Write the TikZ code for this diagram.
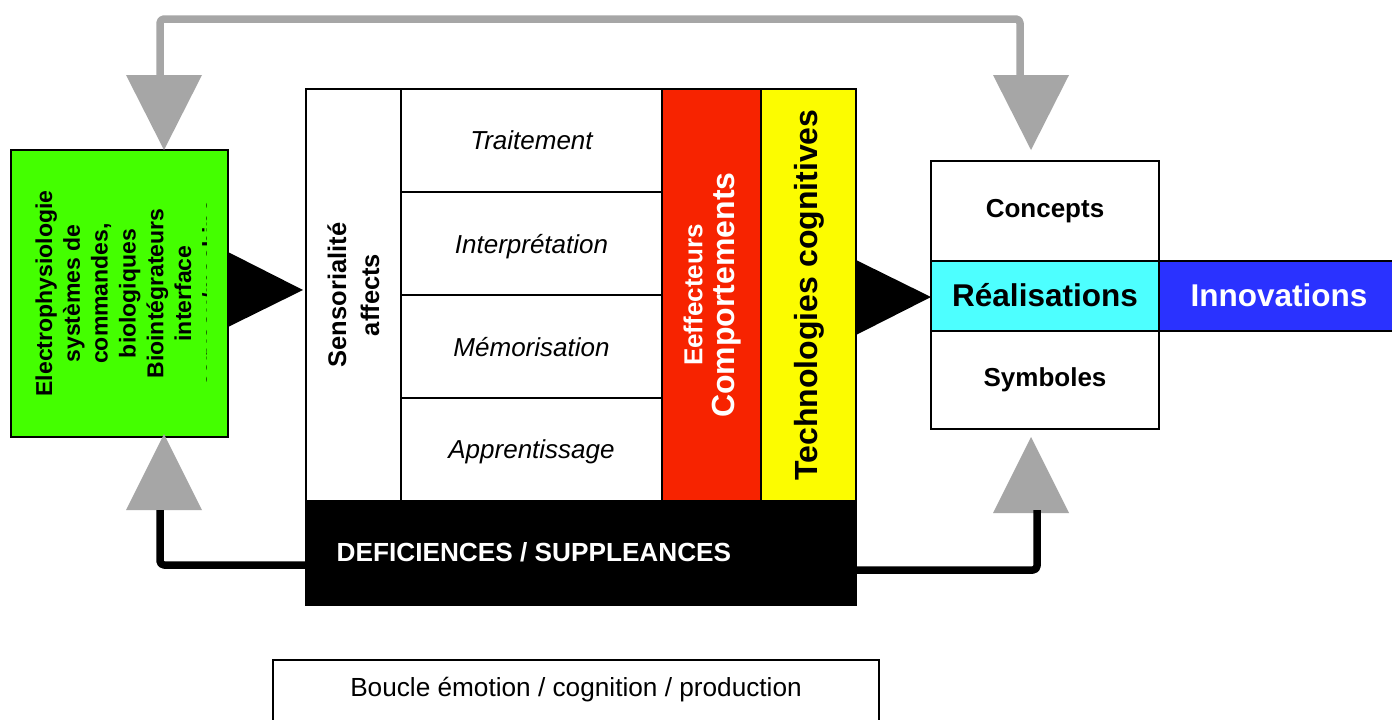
\documentclass[tikz,border=0pt]{standalone}
\usepackage{fontspec}
\setmainfont{Liberation Sans}
\usetikzlibrary{calc}
\definecolor{vert}{RGB}{68,255,0}
\definecolor{rouge}{RGB}{247,35,0}
\definecolor{jaune}{RGB}{252,252,0}
\definecolor{cyanR}{RGB}{77,255,255}
\definecolor{bleuI}{RGB}{42,50,255}
\definecolor{grisA}{RGB}{166,166,166}
\tikzset{
  box/.style={draw=black, line width=2pt, rectangle, inner sep=0pt, outer sep=0pt, anchor=north west},
  vtext/.style={rotate=90, inner sep=0pt, align=center},
  rowtext/.style={font=\itshape\fontsize{26}{31}\selectfont, text depth=0pt},
  boldtext/.style={font=\bfseries\fontsize{26}{31}\selectfont, text depth=0pt},
  grayline/.style={draw=grisA, line width=7.5pt, rounded corners=4pt, line join=round},
  blackline/.style={draw=black, line width=7.5pt, rounded corners=4pt, line join=round},
  headgray/.style={fill=grisA},
  headblack/.style={fill=black}
}
\begin{document}
\begin{tikzpicture}[x=1pt,y=-1pt]
\fill[white] (0,0) rectangle (1392,720);
\useasboundingbox (0,0) rectangle (1392,720);

% left green box
\node[box, fill=vert, minimum width=217, minimum height=287] (green) at (11,150) {};
\begin{scope}
  \clip (11,150) rectangle (206.5,437);
  \node[vtext, font=\bfseries\fontsize{23}{27.8}\selectfont] (greentxt) at (127.4,293.5)
    {Electrophysiologie\\systèmes de\\commandes,\\biologiques\\Biointégrateurs\\interface\\cerveau/machine};
\end{scope}

% central block
\node[box, minimum width=95, minimum height=412] (sens) at (306,89) {};
\node[vtext, font=\bfseries\fontsize{25.5}{33}\selectfont] (senstxt) at (sens.center) {Sensorialité\\affects};
\node[box, rowtext, minimum width=261, minimum height=103] (trait) at (401,89) {Traitement};
\node[box, rowtext, minimum width=261, minimum height=103] (interp) at (401,192) {Interprétation};
\node[box, rowtext, minimum width=261, minimum height=103] (memo) at (401,295) {Mémorisation};
\node[box, rowtext, minimum width=261, minimum height=103] (appr) at (401,398) {Apprentissage};
\node[box, fill=rouge, minimum width=99, minimum height=412] (red) at (662,89) {};
\node[vtext, text=white, font=\bfseries\fontsize{26}{31}\selectfont] (eff) at ($(red.center)+(-18.5,0)$) {Eeffecteurs};
\node[vtext, text=white, font=\bfseries\fontsize{32}{38}\selectfont] (comp) at ($(red.center)+(15.5,0)$) {Comportements};
\node[box, fill=jaune, minimum width=95, minimum height=412] (yellow) at (761,89) {};
\node[vtext, font=\bfseries\fontsize{32}{38}\selectfont] (techno) at ($(yellow.center)+(1,0)$) {Technologies cognitives};
\node[box, fill=black, minimum width=550, minimum height=104] (black) at (306,501) {};
\node[anchor=west, inner sep=0pt, text=white, font=\bfseries\fontsize{26.2}{31}\selectfont] (defi) at ($(black.west)+(30.5,-1)$) {DEFICIENCES / SUPPLEANCES};

% right block
\node[box, boldtext, text depth=5pt, minimum width=228, minimum height=99.5] (concepts) at (931,161) {Concepts};
\node[box, fill=cyanR, minimum width=228, minimum height=70, font=\bfseries\fontsize{31.5}{38}\selectfont, text depth=2pt] (real) at (931,260.5) {Réalisations};
\node[box, boldtext, text depth=6pt, minimum width=228, minimum height=98.5] (symb) at (931,330.5) {Symboles};
\node[box, fill=bleuI, text=white, minimum width=240, minimum height=70, font=\bfseries\fontsize{31.5}{38}\selectfont, text depth=0pt] (innov) at (1159,260.5) {Innovations};

% big black arrowheads
\fill[headblack] ($(green.east)+(0,-41.5)$) -- ($(sens.west)+(-3,-5)$) -- ($(green.east)+(0,33.5)$) -- cycle;
\fill[headblack] ($(yellow.east)+(0,-35)$) -- ($(real.west)+(0,1.5)$) -- ($(yellow.east)+(0,40)$) -- cycle;

% top gray loop
\draw[grayline] ($(green.north)+(40.5,-75)$) -- ++(0,-56) -| ($(concepts.north)+(-25,-86)$);
\fill[headgray] ($(green.north)+(6.5,-75)$) -- ($(green.north)+(82.5,-75)$) -- ($(green.north)+(44.5,0)$) -- cycle;
\fill[headgray] ($(concepts.north)+(-52,-86)$) -- ($(concepts.north)+(24,-86)$) -- ($(concepts.north)+(-14,-11)$) -- cycle;

% bottom black connectors
\fill[headgray] ($(green.south)+(6.5,73)$) -- ($(green.south)+(82.5,73)$) -- ($(green.south)+(44.5,-3)$) -- cycle;
\draw[blackline] ($(black.west)+(0,12)$) -| ($(green.south)+(40.5,73)$);
\fill[headgray] ($(symb.south)+(-52,84)$) -- ($(symb.south)+(24,84)$) -- ($(symb.south)+(-14,8)$) -- cycle;
\draw[blackline] ($(black.east)+(0,17)$) -| ($(symb.south)+(-8,81)$);

% bottom caption box
\node[box, line width=1.5pt, minimum width=606, minimum height=120] (boucle) at (273,660) {};
\node[inner sep=0pt, font=\fontsize{26.2}{31}\selectfont] (boucletxt) at ($(boucle.north)+(0,30)$) {Boucle émotion / cognition / production};
\end{tikzpicture}
\end{document}
